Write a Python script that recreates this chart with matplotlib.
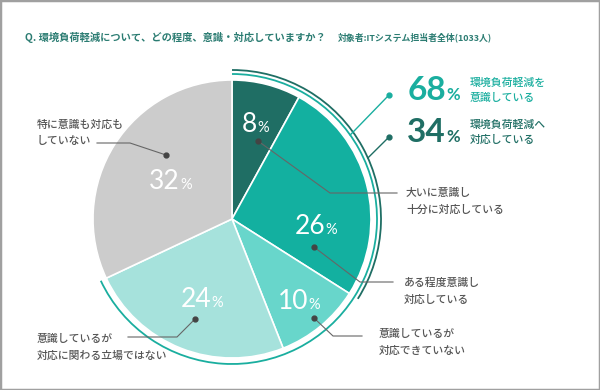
import numpy as np
import matplotlib
matplotlib.use("Agg")
import matplotlib.pyplot as plt
from matplotlib.patches import Arc, Rectangle

plt.rcParams['font.family'] = ['Noto Sans CJK JP', 'DejaVu Sans']

# data
labels = ['大いに意識し\n十分に対応している', 'ある程度意識し\n対応している', '意識しているが\n対応できていない',
          '意識しているが\n対応に関わる立場ではない', '特に意識も対応も\nしていない']
values = [8, 26, 10, 24, 32]
colors = ['#1f6e64', '#13b0a0', '#68d6cb', '#a6e2dc', '#cccccc']
summary_values = [68, 34]
summary_labels = ['環境負荷軽減を\n意識している', '環境負荷軽減へ\n対応している']
summary_colors = ['#1aae9f', '#1f6e64']
title = 'Q. 環境負荷軽減について、どの程度、意識・対応していますか？'
subtitle = '対象者:ITシステム担当者全体(1033人)'

H = 390
def Y(y):
    return H - y

fig = plt.figure(figsize=(6, 3.9), dpi=100)
ax = fig.add_axes([0, 0, 1, 1])

cx, cy, r = 232, Y(219), 139
ax.pie(values, colors=colors, startangle=90, counterclock=False, center=(cx, cy), radius=r,
       wedgeprops=dict(edgecolor='white', linewidth=1.2), frame=True)
ax.set_xlim(0, 600)
ax.set_ylim(0, H)
ax.set_aspect('equal')
ax.axis('off')

num_font = ['Lato', 'DejaVu Sans']

# outer arcs (cumulative shares)
arc_r = [145, 149]
for v, c, rr in zip(summary_values, summary_colors, arc_r):
    ax.add_patch(Arc((cx, cy), 2 * rr, 2 * rr, theta1=90 - v * 3.6, theta2=90, color=c, lw=1.3))

# summary callouts
callout_ang = [35.4, 24.2]
dot_y = [95, 137]
for v, lab, c, rr, ang, dy in zip(summary_values, summary_labels, summary_colors, arc_r, callout_ang, dot_y):
    sx = cx + rr * np.cos(np.radians(ang))
    sy = cy + rr * np.sin(np.radians(ang))
    ax.plot([sx, 389], [sy, Y(dy)], color=c, lw=1)
    ax.plot(389, Y(dy), 'o', color=c, ms=3.5)
    ax.text(446, Y(dy + 5), str(v), color=c, fontsize=24, fontweight='bold', ha='right', va='baseline',
            family=num_font)
    ax.text(446.5, Y(dy + 5), '%', color=c, fontsize=12, fontweight='bold', ha='left', va='baseline',
            family=num_font)
    ax.text(470, Y(dy - 5), lab, color=c, fontsize=7.8, fontweight='medium', ha='left', va='center',
            linespacing=1.6)

# percent labels in slices
num_pos = [(257, 123), (325, 225), (308, 300), (211, 298), (180, 180)]
for v, (x, y) in zip(values, num_pos):
    ax.text(x, Y(y + 9), str(v), color='white', fontsize=19, ha='right', va='baseline',
            family=num_font)
    ax.text(x + 0.5, Y(y + 9), '%', color='white', fontsize=10.5, ha='left', va='baseline',
            family=num_font)

# leader lines: dot, elbow, line end, text position
dots = [(258, 141), (314, 247), (314, 318), (195, 319), (166, 155)]
elbows = [(330, 193), (360, 282), (333, 336), (177, 337), (130, 143)]
ends = [397, 393, 362, 128, 97]
text_x = [406, 404, 379, 37, 37]
text_y = [201, 291, 342, 347, 133]
for lab, d, e, x_end, tx, ty in zip(labels, dots, elbows, ends, text_x, text_y):
    ax.plot([d[0], e[0], x_end], [Y(d[1]), Y(e[1]), Y(e[1])], color='#666666', lw=0.8)
    ax.plot(d[0], Y(d[1]), 'o', color='#444444', ms=3.5)
    ax.text(tx, Y(ty), lab, color='#555555', fontsize=7.8, fontweight='medium', ha='left', va='center',
            linespacing=1.8)

# titles
fig.text(25 / 600, 1 - 37 / H, title, color='#2b7c72', fontsize=7.4, fontweight='bold', va='center')
fig.text(338 / 600, 1 - 37 / H, subtitle, color='#2b7c72', fontsize=6.4, fontweight='bold', va='center')

# frame
fig.patches.append(Rectangle((0, 0), 1, 1, transform=fig.transFigure, fill=False,
                             edgecolor='#a0a0a0', lw=2.5))

fig.savefig('out.png', dpi=100, facecolor='white')
